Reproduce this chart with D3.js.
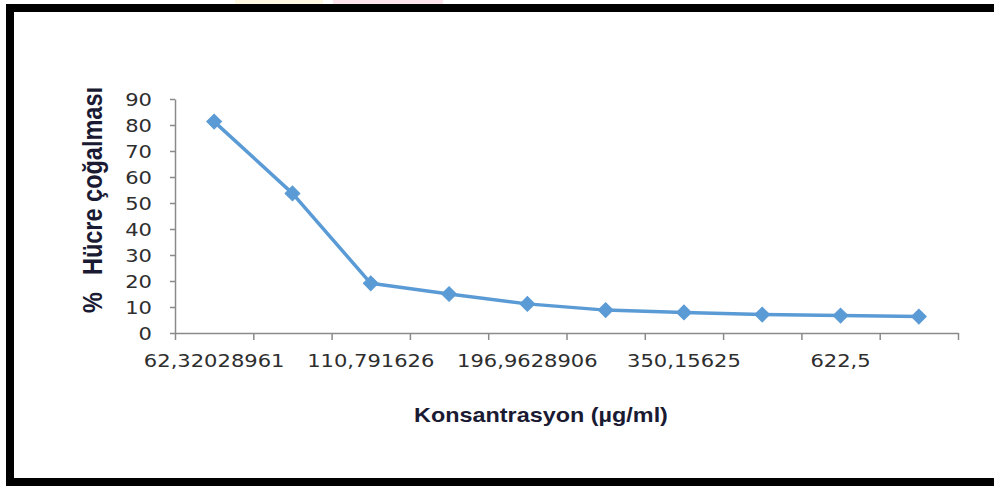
<!DOCTYPE html>
<html>
<head>
<meta charset="utf-8">
<script src="https://cdn.jsdelivr.net/npm/d3@7"></script>
<style>
  body { margin: 0; background: #fff; }
  svg { display: block; }
</style>
</head>
<body>
<svg id="chart" width="994" height="486"></svg>
<script>
"use strict";

// concentrations (x categories) and % cell proliferation
const concentrations = ["62,32028961", "83,09371948", "110,791626", "147,722168", "196,9628906",
                        "262,6171875", "350,15625", "466,875", "622,5", "830"];
const proliferation = [81.3, 53.7, 19.1, 15.0, 11.2, 8.8, 7.9, 7.1, 6.7, 6.3];
const shownLabels = ["62,32028961", "110,791626", "196,9628906", "350,15625", "622,5"];
const yTicks = [0, 10, 20, 30, 40, 50, 60, 70, 80, 90];

const plotLeft = 175, plotRight = 958, plotTop = 99, plotBottom = 333;
const STRETCH = 1.17;   // the picture is a bit wider than tall
const lineColor = "#5B9BD5";
const labelColor = "#2e2e2e";

const svg = d3.select("#chart");

// faint tints above the frame
svg.append("rect").attr("x", 235).attr("y", 0).attr("width", 88).attr("height", 4).attr("fill", "#fff8e0");
svg.append("rect").attr("x", 333).attr("y", 0).attr("width", 110).attr("height", 4).attr("fill", "#fde4ec");

// black frame
svg.append("rect")
    .attr("x", 10).attr("y", 8)
    .attr("width", 1000).attr("height", 474)
    .attr("fill", "#fff")
    .attr("stroke", "#000")
    .attr("stroke-width", 8);

const xScale = d3.scaleBand().domain(concentrations).range([plotLeft, plotRight]).padding(0);
const xEdges = d3.scaleLinear().domain([0, concentrations.length]).range([plotLeft, plotRight]);
const yScale = d3.scaleLinear().domain([0, 90]).range([plotBottom, plotTop]);

// y axis
const yAxis = svg.append("g")
    .attr("transform", `translate(${plotLeft},0)`)
    .call(d3.axisLeft(yScale).tickValues(yTicks).tickSize(5).tickSizeOuter(0));
yAxis.select(".domain").attr("stroke", "#8a8a8a").attr("stroke-width", 1.5);
yAxis.selectAll(".tick line").attr("stroke", "#8a8a8a").attr("stroke-width", 1.5);
yAxis.selectAll(".tick text")
    .attr("x", 0)
    .attr("dy", "0.38em")
    .attr("transform", `translate(-23,0) scale(${STRETCH},1)`)
    .attr("fill", labelColor)
    .style("font", "18px 'DejaVu Sans'");

// x axis: ticks between categories
const xAxis = svg.append("g")
    .attr("transform", `translate(0,${plotBottom})`)
    .call(d3.axisBottom(xEdges).tickValues(d3.range(concentrations.length + 1))
        .tickSize(7).tickSizeOuter(0).tickFormat(""));
xAxis.select(".domain").attr("stroke", "#8a8a8a").attr("stroke-width", 1.5);
xAxis.selectAll(".tick line").attr("stroke", "#8a8a8a").attr("stroke-width", 1.5);

svg.append("g").selectAll("text")
    .data(shownLabels)
    .join("text")
    .attr("transform", d => `translate(${xScale(d) + xScale.bandwidth() / 2},367) scale(${STRETCH},1)`)
    .attr("text-anchor", "middle")
    .attr("fill", labelColor)
    .style("font", "18px 'DejaVu Sans'")
    .text(d => d);

// line + diamonds
const pts = concentrations.map((c, i) => ({ c: c, v: proliferation[i] }));
const line = d3.line()
    .x(d => xScale(d.c) + xScale.bandwidth() / 2)
    .y(d => yScale(d.v));

svg.append("path")
    .datum(pts)
    .attr("d", line)
    .attr("fill", "none")
    .attr("stroke", lineColor)
    .attr("stroke-width", 3.5)
    .attr("stroke-linejoin", "round");

svg.append("g").selectAll("path")
    .data(pts)
    .join("path")
    .attr("d", d3.symbol(d3.symbolSquare, 110))
    .attr("transform", d => `translate(${xScale(d.c) + xScale.bandwidth() / 2},${yScale(d.v)}) rotate(45)`)
    .attr("fill", lineColor)
    .attr("stroke", lineColor)
    .attr("stroke-width", 1);

// axis titles
const titleColor = "#1a1a33";
svg.append("text")
    .attr("transform", `translate(541,422) scale(${STRETCH},1)`)
    .attr("text-anchor", "middle")
    .attr("fill", titleColor)
    .style("font", "bold 20px 'Liberation Sans'")
    .text("Konsantrasyon (µg/ml)");

svg.append("text")
    .attr("transform", `translate(102,313) scale(${STRETCH},1) rotate(-90)`)
    .attr("fill", titleColor)
    .style("font", "bold 23.5px 'Liberation Sans'")
    .text("%");

svg.append("text")
    .attr("transform", `translate(102,275) scale(${STRETCH},1) rotate(-90)`)
    .attr("fill", titleColor)
    .style("font", "bold 23.5px 'Liberation Sans'")
    .text("Hücre çoğalması");
</script>
</body>
</html>
